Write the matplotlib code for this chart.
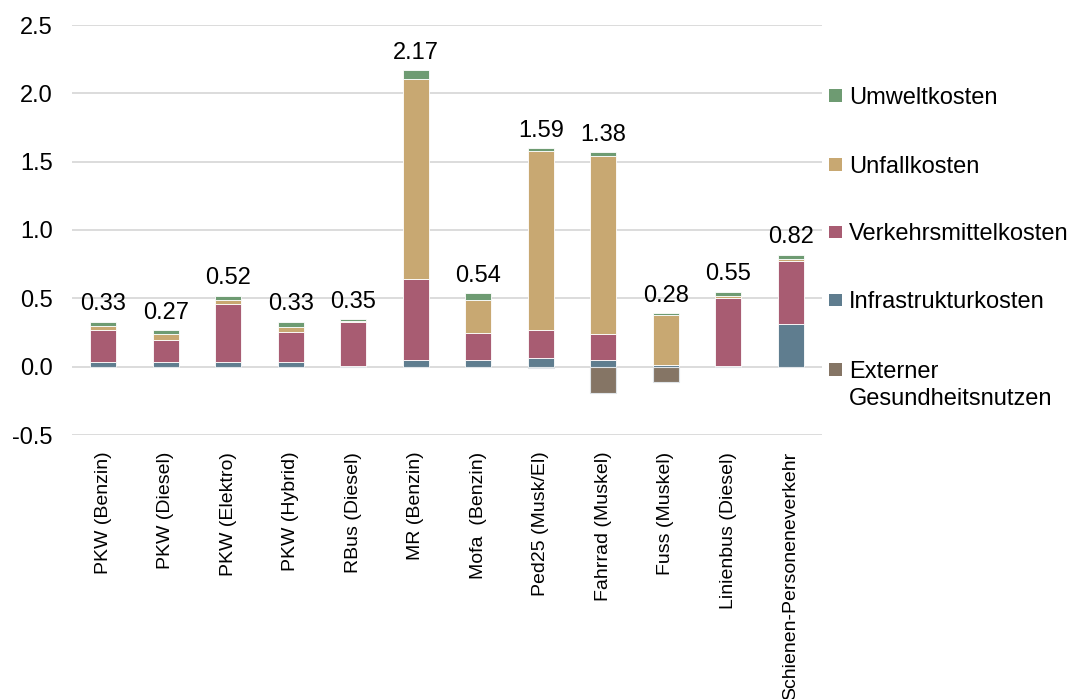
import matplotlib
matplotlib.use("Agg")
import matplotlib.pyplot as plt
from matplotlib import font_manager
from matplotlib.patches import Rectangle
from matplotlib.transforms import blended_transform_factory, offset_copy
import numpy as np

# Cost components per transport mode (CHF per person-km)
categories = ["PKW (Benzin)", "PKW (Diesel)", "PKW (Elektro)", "PKW (Hybrid)",
              "RBus (Diesel)", "MR (Benzin)", "Mofa  (Benzin)", "Ped25 (Musk/El)",
              "Fahrrad (Muskel)", "Fuss (Muskel)", "Linienbus (Diesel)",
              "Schienen-Personeneverkehr"]
infrastruktur = [0.035, 0.035, 0.035, 0.035, 0.008, 0.05, 0.05, 0.065, 0.05, 0.015, 0.005, 0.31]
verkehrsmittel = [0.235, 0.16, 0.42, 0.22, 0.322, 0.59, 0.20, 0.20, 0.19, 0.0, 0.495, 0.465]
unfall = [0.03, 0.045, 0.035, 0.035, 0.005, 1.465, 0.24, 1.31, 1.305, 0.36, 0.015, 0.015]
umwelt = [0.03, 0.03, 0.03, 0.04, 0.015, 0.065, 0.05, 0.025, 0.025, 0.015, 0.035, 0.03]
gesundheit = [0.0, 0.0, 0.0, 0.0, 0.0, 0.0, 0.0, -0.01, -0.19, -0.11, 0.0, 0.0]

series = [
    ("Infrastrukturkosten", infrastruktur, "#5f7d8f"),
    ("Verkehrsmittelkosten", verkehrsmittel, "#a85c72"),
    ("Unfallkosten", unfall, "#c8a872"),
    ("Umweltkosten", umwelt, "#6e9b72"),
]
ext_lines, ext_color = ["Externer", "Gesundheitsnutzen"], "#857565"

names = {f.name for f in font_manager.fontManager.ttflist}
narrow = "Liberation Sans Narrow" in names
cat_family = "Liberation Sans Narrow" if narrow else "Liberation Sans"
cat_size = 17 if narrow else 14
plt.rcParams["font.family"] = ["Liberation Sans", "DejaVu Sans"]

fig = plt.figure(figsize=(10.73, 6.99), dpi=100)
ax = fig.add_axes([72 / 1073, 264 / 699, 750 / 1073, 410 / 699])

x = np.arange(len(categories))
width = 0.42
bottom = np.zeros(len(categories))
for name, vals, color in series:
    v = np.array(vals)
    ax.bar(x, v, width, bottom=bottom, color=color, edgecolor="white",
           linewidth=0.6, zorder=3)
    bottom += v
pos_top = bottom.copy()
ax.bar(x, gesundheit, width, color=ext_color, edgecolor="#dfe4e8",
       linewidth=0.8, zorder=3)

# net value labels above each stack
net = pos_top + np.array(gesundheit)
for xi, top, n in zip(x, pos_top, net):
    ax.annotate(f"{n:.2f}", (xi, top), xytext=(0, 8), textcoords="offset points",
                ha="center", va="baseline", fontsize=17, color="black")

yt = np.arange(-0.5, 2.51, 0.5)
ax.set_xlim(-0.5, len(categories) - 0.5)
ax.set_ylim(-0.5, 2.5)
ax.set_yticks(yt)
ax.set_yticklabels([f"{t:.1f}" for t in yt])
ax.set_xticks(x)
ax.set_xticklabels(categories, rotation=90, ha="center", va="top",
                   family=cat_family, fontsize=cat_size)
ax.tick_params(axis="y", length=0, pad=14, labelsize=17)
ax.tick_params(axis="x", length=0, pad=12)
ax.grid(axis="y", color="#d9d9d9", linewidth=1.3, zorder=0)
ax.set_axisbelow(True)
for s in ax.spines.values():
    s.set_visible(False)

# legend to the right, one entry per gridline level
legend_items = [([n], c) for n, _, c in series[::-1]] + [(ext_lines, ext_color)]
legend_y = [1.985, 1.48, 0.985, 0.49, -0.02]
trans = blended_transform_factory(ax.transAxes, ax.transData)
px = 1.0 / 750          # one pixel in axes-x units
dy = 12.4 / 136.7       # square height in data units
for (lines, color), y in zip(legend_items, legend_y):
    ax.add_patch(Rectangle((1 + 7.3 * px, y - dy / 2), 12.4 * px, dy,
                           facecolor=color, edgecolor="none", clip_on=False,
                           transform=trans))
    for i, line in enumerate(lines):
        ax.text(1 + 27 * px, y, line,
                transform=offset_copy(trans, fig=fig, x=0, y=-8.4 - 27 * i, units="dots"),
                ha="left", va="baseline", fontsize=17, clip_on=False)

fig.savefig("out.png", dpi=100)
